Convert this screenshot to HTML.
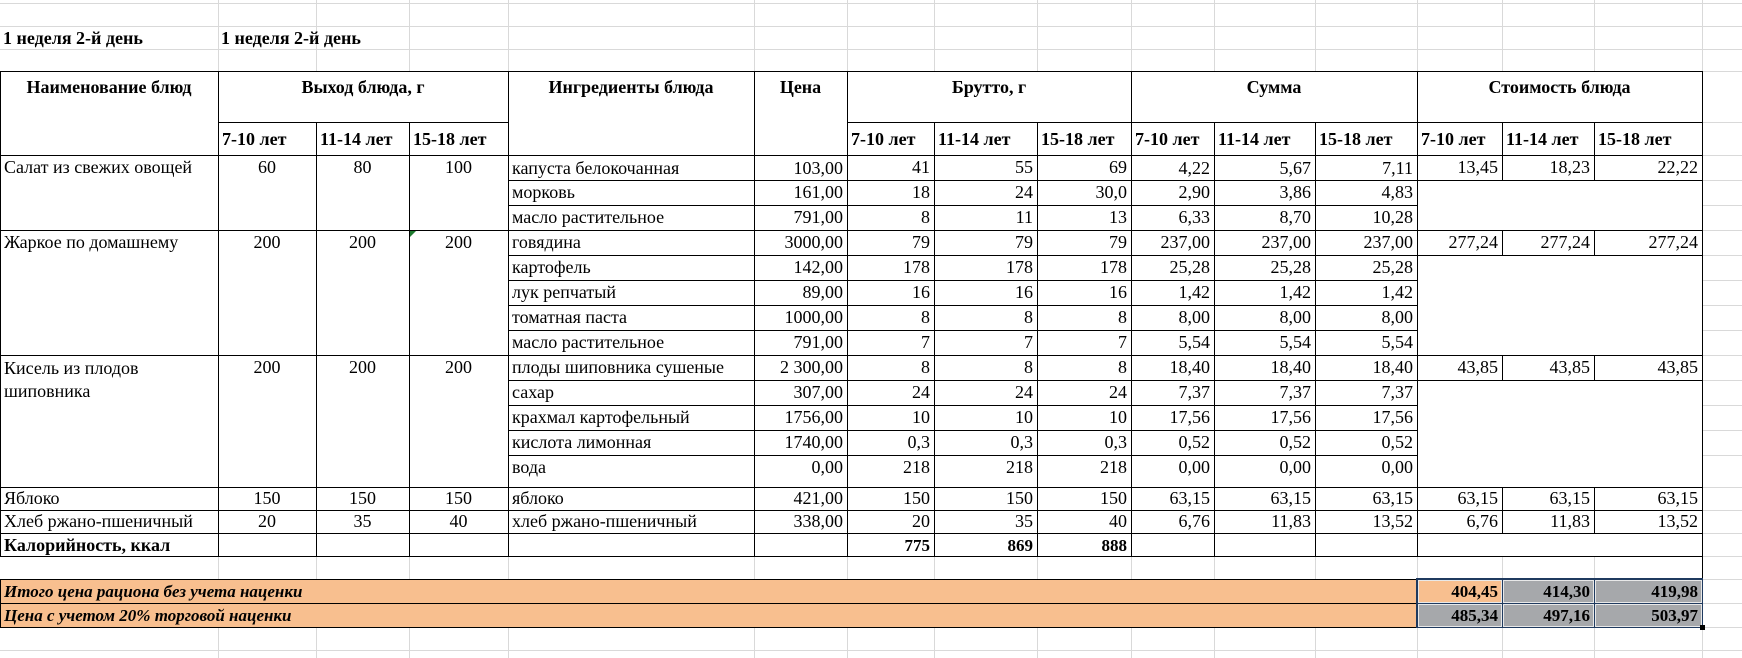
<!DOCTYPE html>
<html><head><meta charset="utf-8"><style>
html,body{margin:0;padding:0;background:#fff;width:1742px;height:658px;overflow:hidden;position:relative}
.h{position:absolute;left:0;width:1742px;height:1px;background:#d9d9d9}
.v{position:absolute;width:1px;background:#d9d9d9}
.c{position:absolute;box-sizing:border-box;border:1px solid #000;background:#fff;font-family:"Liberation Serif","Noto Serif CJK SC",serif;font-size:18px;line-height:21px;overflow:hidden;white-space:nowrap;display:flex;align-items:flex-start;padding:1px 4px 0 3px;color:#000}
.r{justify-content:flex-end}.m{justify-content:center}.b{font-weight:bold;font-size:17px}
.hd{font-weight:bold;font-size:18px;justify-content:center;padding-top:5px}
.sb{font-weight:bold;font-size:18px;align-items:center;padding-top:0}
.t{position:absolute;font-family:"Liberation Serif",serif;font-weight:bold;font-size:18px;line-height:20px}
.o{background:#f8bf8f;font-weight:bold;font-style:italic;font-size:17px;align-items:center;padding-top:0}
.s{background:#a6a8ab;border:1px solid #1f3a5f;font-weight:bold;font-size:17px;justify-content:flex-end;align-items:center;padding-top:0;box-shadow:inset 0 0 0 1px #e8e8e8}
</style></head><body>
<div class="h" style="top:3px"></div><div class="h" style="top:26px"></div><div class="h" style="top:49px"></div><div class="h" style="top:71px"></div>
<div class="h" style="top:122px"></div><div class="h" style="top:155px"></div><div class="h" style="top:180px"></div><div class="h" style="top:205px"></div><div class="h" style="top:230px"></div><div class="h" style="top:255px"></div><div class="h" style="top:280px"></div><div class="h" style="top:305px"></div><div class="h" style="top:330px"></div><div class="h" style="top:355px"></div><div class="h" style="top:380px"></div><div class="h" style="top:405px"></div><div class="h" style="top:430px"></div><div class="h" style="top:455px"></div><div class="h" style="top:487px"></div><div class="h" style="top:510px"></div><div class="h" style="top:533px"></div><div class="h" style="top:556px"></div><div class="h" style="top:579px"></div><div class="h" style="top:603px"></div><div class="h" style="top:627px"></div><div class="h" style="top:650px"></div>
<div class="v" style="left:218px;top:0;height:658px"></div><div class="v" style="left:316px;top:0;height:658px"></div><div class="v" style="left:409px;top:0;height:658px"></div><div class="v" style="left:508px;top:0;height:658px"></div><div class="v" style="left:754px;top:0;height:658px"></div><div class="v" style="left:847px;top:0;height:658px"></div><div class="v" style="left:934px;top:0;height:658px"></div><div class="v" style="left:1037px;top:0;height:658px"></div><div class="v" style="left:1131px;top:0;height:658px"></div><div class="v" style="left:1214px;top:0;height:658px"></div><div class="v" style="left:1315px;top:0;height:658px"></div><div class="v" style="left:1417px;top:0;height:658px"></div><div class="v" style="left:1502px;top:0;height:658px"></div><div class="v" style="left:1594px;top:0;height:658px"></div><div class="v" style="left:1702px;top:0;height:658px"></div>

<div class="t" style="left:3px;top:28px">1 неделя 2-й день</div>
<div class="t" style="left:221px;top:28px">1 неделя 2-й день</div>

<div class="c hd" style="left:0;top:71px;width:219px;height:85px">Наименование блюд</div>
<div class="c hd" style="left:218px;top:71px;width:291px;height:52px">Выход блюда, г</div>
<div class="c sb" style="left:218px;top:122px;width:99px;height:34px">7-10 лет</div>
<div class="c sb" style="left:316px;top:122px;width:94px;height:34px">11-14 лет</div>
<div class="c sb" style="left:409px;top:122px;width:100px;height:34px">15-18 лет</div>
<div class="c hd" style="left:508px;top:71px;width:247px;height:85px">Ингредиенты блюда</div>
<div class="c hd" style="left:754px;top:71px;width:94px;height:85px">Цена</div>
<div class="c hd" style="left:847px;top:71px;width:285px;height:52px">Брутто, г</div>
<div class="c sb" style="left:847px;top:122px;width:88px;height:34px">7-10 лет</div>
<div class="c sb" style="left:934px;top:122px;width:104px;height:34px">11-14 лет</div>
<div class="c sb" style="left:1037px;top:122px;width:95px;height:34px">15-18 лет</div>
<div class="c hd" style="left:1131px;top:71px;width:287px;height:52px">Сумма</div>
<div class="c sb" style="left:1131px;top:122px;width:84px;height:34px">7-10 лет</div>
<div class="c sb" style="left:1214px;top:122px;width:102px;height:34px">11-14 лет</div>
<div class="c sb" style="left:1315px;top:122px;width:103px;height:34px">15-18 лет</div>
<div class="c hd" style="left:1417px;top:71px;width:286px;height:52px">Стоимость блюда</div>
<div class="c sb" style="left:1417px;top:122px;width:86px;height:34px">7-10 лет</div>
<div class="c sb" style="left:1502px;top:122px;width:93px;height:34px">11-14 лет</div>
<div class="c sb" style="left:1594px;top:122px;width:109px;height:34px">15-18 лет</div>

<div class="c" style="left:0;top:155px;width:219px;height:76px">Салат из свежих овощей</div>
<div class="c m" style="left:218px;top:155px;width:99px;height:76px">60</div>
<div class="c m" style="left:316px;top:155px;width:94px;height:76px">80</div>
<div class="c m" style="left:409px;top:155px;width:100px;height:76px">100</div>
<div class="c" style="left:0;top:230px;width:219px;height:126px">Жаркое по домашнему</div>
<div class="c m" style="left:218px;top:230px;width:99px;height:126px">200</div>
<div class="c m" style="left:316px;top:230px;width:94px;height:126px">200</div>
<div class="c m" style="left:409px;top:230px;width:100px;height:126px">200</div>
<div class="c" style="left:0;top:355px;width:219px;height:133px;white-space:normal;line-height:23px">Кисель из плодов шиповника</div>
<div class="c m" style="left:218px;top:355px;width:99px;height:133px">200</div>
<div class="c m" style="left:316px;top:355px;width:94px;height:133px">200</div>
<div class="c m" style="left:409px;top:355px;width:100px;height:133px">200</div>
<div class="c" style="left:0;top:487px;width:219px;height:24px;padding-top:0">Яблоко</div>
<div class="c m" style="left:218px;top:487px;width:99px;height:24px;padding-top:0">150</div>
<div class="c m" style="left:316px;top:487px;width:94px;height:24px;padding-top:0">150</div>
<div class="c m" style="left:409px;top:487px;width:100px;height:24px;padding-top:0">150</div>
<div class="c" style="left:0;top:510px;width:219px;height:24px;padding-top:0">Хлеб ржано-пшеничный</div>
<div class="c m" style="left:218px;top:510px;width:99px;height:24px;padding-top:0">20</div>
<div class="c m" style="left:316px;top:510px;width:94px;height:24px;padding-top:0">35</div>
<div class="c m" style="left:409px;top:510px;width:100px;height:24px;padding-top:0">40</div>
<div class="c b" style="left:0;top:533px;width:219px;height:24px;padding-top:1px;font-size:18px">Калорийность, ккал</div>
<div class="c" style="left:218px;top:533px;width:99px;height:24px"></div>
<div class="c" style="left:316px;top:533px;width:94px;height:24px"></div>
<div class="c" style="left:409px;top:533px;width:100px;height:24px"></div>
<div style="position:absolute;left:410px;top:231px;width:0;height:0;border-top:6px solid #1d7a2e;border-right:6px solid transparent"></div>

<div class="c" style="left:508px;top:155px;width:247px;height:26px;padding-top:2px">капуста белокочанная</div>
<div class="c r" style="left:754px;top:155px;width:94px;height:26px;padding-top:2px">103,00</div>
<div class="c r" style="left:847px;top:155px;width:88px;height:26px">41</div>
<div class="c r" style="left:934px;top:155px;width:104px;height:26px">55</div>
<div class="c r" style="left:1037px;top:155px;width:95px;height:26px">69</div>
<div class="c r" style="left:1131px;top:155px;width:84px;height:26px;padding-top:2px">4,22</div>
<div class="c r" style="left:1214px;top:155px;width:102px;height:26px;padding-top:2px">5,67</div>
<div class="c r" style="left:1315px;top:155px;width:103px;height:26px;padding-top:2px">7,11</div>
<div class="c r" style="left:1417px;top:155px;width:86px;height:26px">13,45</div>
<div class="c r" style="left:1502px;top:155px;width:93px;height:26px">18,23</div>
<div class="c r" style="left:1594px;top:155px;width:109px;height:26px">22,22</div>
<div class="c" style="left:1417px;top:180px;width:286px;height:51px"></div>
<div class="c" style="left:508px;top:180px;width:247px;height:26px">морковь</div>
<div class="c r" style="left:754px;top:180px;width:94px;height:26px">161,00</div>
<div class="c r" style="left:847px;top:180px;width:88px;height:26px">18</div>
<div class="c r" style="left:934px;top:180px;width:104px;height:26px">24</div>
<div class="c r" style="left:1037px;top:180px;width:95px;height:26px">30,0</div>
<div class="c r" style="left:1131px;top:180px;width:84px;height:26px">2,90</div>
<div class="c r" style="left:1214px;top:180px;width:102px;height:26px">3,86</div>
<div class="c r" style="left:1315px;top:180px;width:103px;height:26px">4,83</div>
<div class="c" style="left:508px;top:205px;width:247px;height:26px">масло растительное</div>
<div class="c r" style="left:754px;top:205px;width:94px;height:26px">791,00</div>
<div class="c r" style="left:847px;top:205px;width:88px;height:26px">8</div>
<div class="c r" style="left:934px;top:205px;width:104px;height:26px">11</div>
<div class="c r" style="left:1037px;top:205px;width:95px;height:26px">13</div>
<div class="c r" style="left:1131px;top:205px;width:84px;height:26px">6,33</div>
<div class="c r" style="left:1214px;top:205px;width:102px;height:26px">8,70</div>
<div class="c r" style="left:1315px;top:205px;width:103px;height:26px">10,28</div>
<div class="c" style="left:508px;top:230px;width:247px;height:26px">говядина</div>
<div class="c r" style="left:754px;top:230px;width:94px;height:26px">3000,00</div>
<div class="c r" style="left:847px;top:230px;width:88px;height:26px">79</div>
<div class="c r" style="left:934px;top:230px;width:104px;height:26px">79</div>
<div class="c r" style="left:1037px;top:230px;width:95px;height:26px">79</div>
<div class="c r" style="left:1131px;top:230px;width:84px;height:26px">237,00</div>
<div class="c r" style="left:1214px;top:230px;width:102px;height:26px">237,00</div>
<div class="c r" style="left:1315px;top:230px;width:103px;height:26px">237,00</div>
<div class="c r" style="left:1417px;top:230px;width:86px;height:26px">277,24</div>
<div class="c r" style="left:1502px;top:230px;width:93px;height:26px">277,24</div>
<div class="c r" style="left:1594px;top:230px;width:109px;height:26px">277,24</div>
<div class="c" style="left:1417px;top:255px;width:286px;height:101px"></div>
<div class="c" style="left:508px;top:255px;width:247px;height:26px">картофель</div>
<div class="c r" style="left:754px;top:255px;width:94px;height:26px">142,00</div>
<div class="c r" style="left:847px;top:255px;width:88px;height:26px">178</div>
<div class="c r" style="left:934px;top:255px;width:104px;height:26px">178</div>
<div class="c r" style="left:1037px;top:255px;width:95px;height:26px">178</div>
<div class="c r" style="left:1131px;top:255px;width:84px;height:26px">25,28</div>
<div class="c r" style="left:1214px;top:255px;width:102px;height:26px">25,28</div>
<div class="c r" style="left:1315px;top:255px;width:103px;height:26px">25,28</div>
<div class="c" style="left:508px;top:280px;width:247px;height:26px">лук репчатый</div>
<div class="c r" style="left:754px;top:280px;width:94px;height:26px">89,00</div>
<div class="c r" style="left:847px;top:280px;width:88px;height:26px">16</div>
<div class="c r" style="left:934px;top:280px;width:104px;height:26px">16</div>
<div class="c r" style="left:1037px;top:280px;width:95px;height:26px">16</div>
<div class="c r" style="left:1131px;top:280px;width:84px;height:26px">1,42</div>
<div class="c r" style="left:1214px;top:280px;width:102px;height:26px">1,42</div>
<div class="c r" style="left:1315px;top:280px;width:103px;height:26px">1,42</div>
<div class="c" style="left:508px;top:305px;width:247px;height:26px">томатная паста</div>
<div class="c r" style="left:754px;top:305px;width:94px;height:26px">1000,00</div>
<div class="c r" style="left:847px;top:305px;width:88px;height:26px">8</div>
<div class="c r" style="left:934px;top:305px;width:104px;height:26px">8</div>
<div class="c r" style="left:1037px;top:305px;width:95px;height:26px">8</div>
<div class="c r" style="left:1131px;top:305px;width:84px;height:26px">8,00</div>
<div class="c r" style="left:1214px;top:305px;width:102px;height:26px">8,00</div>
<div class="c r" style="left:1315px;top:305px;width:103px;height:26px">8,00</div>
<div class="c" style="left:508px;top:330px;width:247px;height:26px">масло растительное</div>
<div class="c r" style="left:754px;top:330px;width:94px;height:26px">791,00</div>
<div class="c r" style="left:847px;top:330px;width:88px;height:26px">7</div>
<div class="c r" style="left:934px;top:330px;width:104px;height:26px">7</div>
<div class="c r" style="left:1037px;top:330px;width:95px;height:26px">7</div>
<div class="c r" style="left:1131px;top:330px;width:84px;height:26px">5,54</div>
<div class="c r" style="left:1214px;top:330px;width:102px;height:26px">5,54</div>
<div class="c r" style="left:1315px;top:330px;width:103px;height:26px">5,54</div>
<div class="c" style="left:508px;top:355px;width:247px;height:26px">плоды шиповника сушеные</div>
<div class="c r" style="left:754px;top:355px;width:94px;height:26px">2 300,00</div>
<div class="c r" style="left:847px;top:355px;width:88px;height:26px">8</div>
<div class="c r" style="left:934px;top:355px;width:104px;height:26px">8</div>
<div class="c r" style="left:1037px;top:355px;width:95px;height:26px">8</div>
<div class="c r" style="left:1131px;top:355px;width:84px;height:26px">18,40</div>
<div class="c r" style="left:1214px;top:355px;width:102px;height:26px">18,40</div>
<div class="c r" style="left:1315px;top:355px;width:103px;height:26px">18,40</div>
<div class="c r" style="left:1417px;top:355px;width:86px;height:26px">43,85</div>
<div class="c r" style="left:1502px;top:355px;width:93px;height:26px">43,85</div>
<div class="c r" style="left:1594px;top:355px;width:109px;height:26px">43,85</div>
<div class="c" style="left:1417px;top:380px;width:286px;height:108px"></div>
<div class="c" style="left:508px;top:380px;width:247px;height:26px">сахар</div>
<div class="c r" style="left:754px;top:380px;width:94px;height:26px">307,00</div>
<div class="c r" style="left:847px;top:380px;width:88px;height:26px">24</div>
<div class="c r" style="left:934px;top:380px;width:104px;height:26px">24</div>
<div class="c r" style="left:1037px;top:380px;width:95px;height:26px">24</div>
<div class="c r" style="left:1131px;top:380px;width:84px;height:26px">7,37</div>
<div class="c r" style="left:1214px;top:380px;width:102px;height:26px">7,37</div>
<div class="c r" style="left:1315px;top:380px;width:103px;height:26px">7,37</div>
<div class="c" style="left:508px;top:405px;width:247px;height:26px">крахмал картофельный</div>
<div class="c r" style="left:754px;top:405px;width:94px;height:26px">1756,00</div>
<div class="c r" style="left:847px;top:405px;width:88px;height:26px">10</div>
<div class="c r" style="left:934px;top:405px;width:104px;height:26px">10</div>
<div class="c r" style="left:1037px;top:405px;width:95px;height:26px">10</div>
<div class="c r" style="left:1131px;top:405px;width:84px;height:26px">17,56</div>
<div class="c r" style="left:1214px;top:405px;width:102px;height:26px">17,56</div>
<div class="c r" style="left:1315px;top:405px;width:103px;height:26px">17,56</div>
<div class="c" style="left:508px;top:430px;width:247px;height:26px">кислота лимонная</div>
<div class="c r" style="left:754px;top:430px;width:94px;height:26px">1740,00</div>
<div class="c r" style="left:847px;top:430px;width:88px;height:26px">0,3</div>
<div class="c r" style="left:934px;top:430px;width:104px;height:26px">0,3</div>
<div class="c r" style="left:1037px;top:430px;width:95px;height:26px">0,3</div>
<div class="c r" style="left:1131px;top:430px;width:84px;height:26px">0,52</div>
<div class="c r" style="left:1214px;top:430px;width:102px;height:26px">0,52</div>
<div class="c r" style="left:1315px;top:430px;width:103px;height:26px">0,52</div>
<div class="c" style="left:508px;top:455px;width:247px;height:33px">вода</div>
<div class="c r" style="left:754px;top:455px;width:94px;height:33px">0,00</div>
<div class="c r" style="left:847px;top:455px;width:88px;height:33px">218</div>
<div class="c r" style="left:934px;top:455px;width:104px;height:33px">218</div>
<div class="c r" style="left:1037px;top:455px;width:95px;height:33px">218</div>
<div class="c r" style="left:1131px;top:455px;width:84px;height:33px">0,00</div>
<div class="c r" style="left:1214px;top:455px;width:102px;height:33px">0,00</div>
<div class="c r" style="left:1315px;top:455px;width:103px;height:33px">0,00</div>
<div class="c" style="left:508px;top:487px;width:247px;height:24px;padding-top:0">яблоко</div>
<div class="c r" style="left:754px;top:487px;width:94px;height:24px;padding-top:0">421,00</div>
<div class="c r" style="left:847px;top:487px;width:88px;height:24px;padding-top:0">150</div>
<div class="c r" style="left:934px;top:487px;width:104px;height:24px;padding-top:0">150</div>
<div class="c r" style="left:1037px;top:487px;width:95px;height:24px;padding-top:0">150</div>
<div class="c r" style="left:1131px;top:487px;width:84px;height:24px;padding-top:0">63,15</div>
<div class="c r" style="left:1214px;top:487px;width:102px;height:24px;padding-top:0">63,15</div>
<div class="c r" style="left:1315px;top:487px;width:103px;height:24px;padding-top:0">63,15</div>
<div class="c r" style="left:1417px;top:487px;width:86px;height:24px;padding-top:0">63,15</div>
<div class="c r" style="left:1502px;top:487px;width:93px;height:24px;padding-top:0">63,15</div>
<div class="c r" style="left:1594px;top:487px;width:109px;height:24px;padding-top:0">63,15</div>
<div class="c" style="left:508px;top:510px;width:247px;height:24px;padding-top:0">хлеб ржано-пшеничный</div>
<div class="c r" style="left:754px;top:510px;width:94px;height:24px;padding-top:0">338,00</div>
<div class="c r" style="left:847px;top:510px;width:88px;height:24px;padding-top:0">20</div>
<div class="c r" style="left:934px;top:510px;width:104px;height:24px;padding-top:0">35</div>
<div class="c r" style="left:1037px;top:510px;width:95px;height:24px;padding-top:0">40</div>
<div class="c r" style="left:1131px;top:510px;width:84px;height:24px;padding-top:0">6,76</div>
<div class="c r" style="left:1214px;top:510px;width:102px;height:24px;padding-top:0">11,83</div>
<div class="c r" style="left:1315px;top:510px;width:103px;height:24px;padding-top:0">13,52</div>
<div class="c r" style="left:1417px;top:510px;width:86px;height:24px;padding-top:0">6,76</div>
<div class="c r" style="left:1502px;top:510px;width:93px;height:24px;padding-top:0">11,83</div>
<div class="c r" style="left:1594px;top:510px;width:109px;height:24px;padding-top:0">13,52</div>
<div class="c" style="left:508px;top:533px;width:247px;height:24px"></div>
<div class="c" style="left:754px;top:533px;width:94px;height:24px"></div>
<div class="c r b" style="left:847px;top:533px;width:88px;height:24px">775</div>
<div class="c r b" style="left:934px;top:533px;width:104px;height:24px">869</div>
<div class="c r b" style="left:1037px;top:533px;width:95px;height:24px">888</div>
<div class="c" style="left:1131px;top:533px;width:84px;height:24px"></div>
<div class="c" style="left:1214px;top:533px;width:102px;height:24px"></div>
<div class="c" style="left:1315px;top:533px;width:103px;height:24px"></div>
<div class="c" style="left:1417px;top:533px;width:286px;height:24px"></div>
<div style="position:absolute;left:1702px;top:556px;width:1px;height:24px;background:#000"></div>

<div class="c o" style="left:0;top:579px;width:1418px;height:25px">Итого цена рациона без учета наценки</div>
<div class="c o" style="left:0;top:603px;width:1418px;height:25px">Цена с учетом 20% торговой наценки</div>
<div class="c s" style="left:1417px;top:579px;width:86px;height:25px;background:#f8bf8f">404,45</div>
<div class="c s" style="left:1502px;top:579px;width:93px;height:25px">414,30</div>
<div class="c s" style="left:1594px;top:579px;width:109px;height:25px">419,98</div>
<div class="c s" style="left:1417px;top:603px;width:86px;height:25px">485,34</div>
<div class="c s" style="left:1502px;top:603px;width:93px;height:25px">497,16</div>
<div class="c s" style="left:1594px;top:603px;width:109px;height:25px">503,97</div>
<div style="position:absolute;left:1416px;top:578px;width:287px;height:50px;box-sizing:border-box;border:1px solid #1f3a5f"></div>
<div style="position:absolute;left:1700px;top:625px;width:5px;height:5px;background:#000"></div>
</body></html>
